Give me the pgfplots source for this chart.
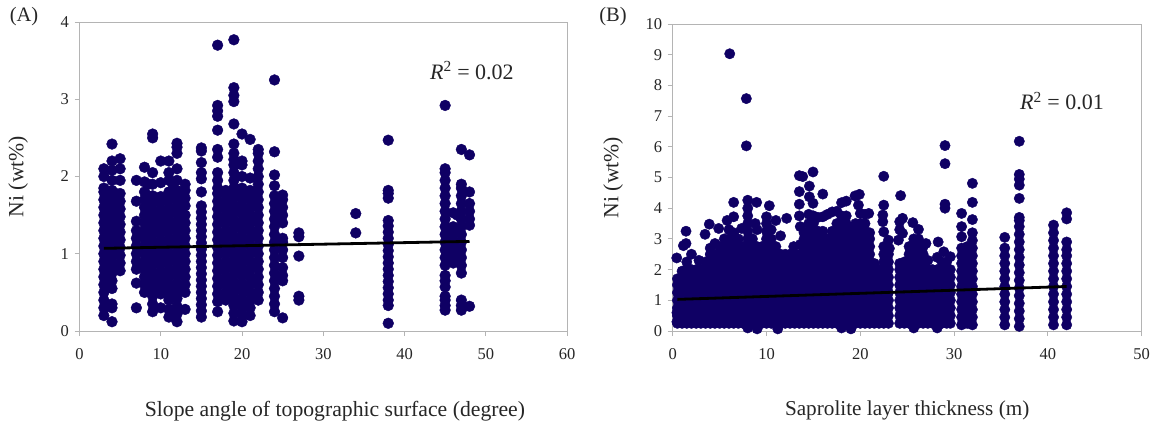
\documentclass[border=0pt]{standalone}
\usepackage{pgfplots}
\pgfplotsset{compat=1.18}
\usepackage{fontspec}
\setmainfont{Liberation Serif}
\definecolor{dot}{HTML}{0F0064}
\definecolor{ax}{HTML}{B4B4B4}
\pgfplotsset{common/.style={scale only axis,axis line style={ax,line width=1pt},tick style={ax,line width=1pt},
 tick align=outside,major tick length=5pt,xtick pos=bottom,ytick pos=left,clip=false,
 /pgf/number format/assume math mode=true,
 tick label style={font=\fontsize{16.5}{19}\selectfont,text=black!85},
 xticklabel style={yshift=-9pt},yticklabel style={xshift=-2pt},
 ymin=0}}
\newcommand{\lab}{\fontsize{21.7}{26}\selectfont}
\begin{document}
\begin{tikzpicture}
\path[use as bounding box] (0,0) rectangle (1156pt,424pt);
\node[font=\fontsize{20.5}{24}\selectfont,text=black!85] at (24pt,407pt) {(A)};
\node[font=\fontsize{20.5}{24}\selectfont,text=black!85] at (613pt,407pt) {(B)};
\begin{axis}[common,at={(79.5pt,93pt)},anchor=south west,width=487.5pt,height=309pt,xmin=0,xmax=60,ymax=4,
 xtick={0,10,20,30,40,50,60},ytick={0,1,2,3,4},
 xlabel={Slope angle of topographic surface (degree)},ylabel={Ni (wt\%)},
 every axis x label/.style={at={(axis description cs:0.524,-0.258)},anchor=center,font=\lab,text=black!85},
 every axis y label/.style={at={(axis description cs:-0.126,0.5)},anchor=center,rotate=90,font=\lab,text=black!85}]
\addplot[only marks,mark=*,mark size=5.4pt,mark options={draw=dot,fill=dot,line width=0.4pt}] coordinates {
(3,0.2)(3,0.3)(3,0.4)(3,0.5)(3,0.6)(3,0.7)(3,0.8)(3,0.9)(3,1)(3,1.1)(3,1.2)(3,1.3)(3,1.4)(3,1.5)(3,1.6)(3,1.7)(3,1.8)(3,1.85)(3,2)(3,2.1)
(3.5,0.6)(3.5,0.8)(3.5,1)(3.5,1.2)(3.5,1.4)(3.5,1.6)(3.5,1.8)
(4,0.12)(4,0.3)(4,0.35)(4,0.55)(4,0.65)(4,0.75)(4,0.85)(4,0.95)(4,1.05)(4,1.15)(4,1.25)(4,1.35)(4,1.45)(4,1.55)(4,1.65)(4,1.75)(4,1.82)(4,1.95)(4,2.08)(4,2.2)(4,2.42)
(4.5,0.85)(4.5,1.05)(4.5,1.25)(4.5,1.45)(4.5,1.65)(4.5,1.78)
(5,0.78)(5,0.88)(5,0.98)(5,1.08)(5,1.18)(5,1.28)(5,1.38)(5,1.48)(5,1.58)(5,1.68)(5,1.78)(5,1.95)(5,2.1)(5,2.23)
(7,0.3)(7,0.62)(7,0.8)(7,0.9)(7,1)(7,1.1)(7,1.2)(7,1.3)(7,1.42)(7,1.68)(7,1.95)
(7.5,0.85)(7.5,1.05)(7.5,1.25)
(8,0.5)(8,0.6)(8,0.7)(8,0.8)(8,0.9)(8,1)(8,1.1)(8,1.2)(8,1.3)(8,1.4)(8,1.5)(8,1.6)(8,1.7)(8,1.8)(8,1.93)(8,2.12)
(8.5,0.55)(8.5,0.75)(8.5,0.95)(8.5,1.15)(8.5,1.35)(8.5,1.55)(8.5,1.75)(8.5,1.9)
(9,0.25)(9,0.35)(9,0.45)(9,0.55)(9,0.65)(9,0.75)(9,0.85)(9,0.95)(9,1.05)(9,1.15)(9,1.25)(9,1.35)(9,1.45)(9,1.55)(9,1.65)(9,1.75)(9,1.9)(9,2.05)(9,2.5)(9,2.55)
(9.5,0.5)(9.5,0.7)(9.5,0.9)(9.5,1.1)(9.5,1.3)(9.5,1.5)(9.5,1.7)
(10,0.3)(10,0.48)(10,0.58)(10,0.68)(10,0.78)(10,0.88)(10,0.98)(10,1.08)(10,1.18)(10,1.28)(10,1.38)(10,1.48)(10,1.58)(10,1.68)(10,1.74)(10,1.92)(10,2.2)
(10.5,0.5)(10.5,0.7)(10.5,0.9)(10.5,1.1)(10.5,1.3)(10.5,1.5)(10.5,1.7)
(11,0.18)(11,0.28)(11,0.4)(11,0.5)(11,0.6)(11,0.7)(11,0.8)(11,0.9)(11,1)(11,1.1)(11,1.2)(11,1.3)(11,1.4)(11,1.5)(11,1.6)(11,1.7)(11,1.8)(11,1.95)(11,2.05)(11,2.2)
(11.5,0.55)(11.5,0.75)(11.5,0.95)(11.5,1.15)(11.5,1.35)(11.5,1.55)(11.5,1.75)(11.5,1.9)
(12,0.12)(12,0.22)(12,0.32)(12,0.42)(12,0.52)(12,0.62)(12,0.72)(12,0.82)(12,0.92)(12,1.02)(12,1.12)(12,1.22)(12,1.32)(12,1.42)(12,1.52)(12,1.62)(12,1.72)(12,1.82)(12,1.95)(12,2.1)(12,2.3)(12,2.38)(12,2.43)
(12.5,0.55)(12.5,0.75)(12.5,0.95)(12.5,1.15)(12.5,1.35)(12.5,1.55)(12.5,1.75)
(13,0.28)(13,0.5)(13,0.6)(13,0.7)(13,0.8)(13,0.9)(13,1)(13,1.1)(13,1.2)(13,1.3)(13,1.4)(13,1.5)(13,1.62)(13,1.72)(13,1.82)(13,1.9)
(15,0.18)(15,0.26)(15,0.34)(15,0.42)(15,0.5)(15,0.58)(15,0.66)(15,0.74)(15,0.82)(15,0.9)(15,0.98)(15,1.06)(15,1.14)(15,1.22)(15,1.3)(15,1.38)(15,1.46)(15,1.54)(15,1.62)(15,1.8)(15,1.97)(15,2.05)(15,2.18)(15,2.33)(15,2.37)
(17,0.25)(17,0.38)(17,0.48)(17,0.58)(17,0.68)(17,0.78)(17,0.88)(17,0.98)(17,1.08)(17,1.18)(17,1.28)(17,1.38)(17,1.48)(17,1.58)(17,1.68)(17,1.78)(17,1.85)(17,1.95)(17,2.05)(17,2.25)(17,2.35)(17,2.6)(17,2.78)(17,2.85)(17,2.92)(17,3.7)
(17.5,0.45)(17.5,0.65)(17.5,0.85)(17.5,1.05)(17.5,1.25)(17.5,1.45)(17.5,1.65)(17.5,1.8)
(18,0.4)(18,0.5)(18,0.6)(18,0.7)(18,0.8)(18,0.9)(18,1)(18,1.1)(18,1.2)(18,1.3)(18,1.4)(18,1.5)(18,1.6)(18,1.7)(18,1.82)
(18.5,0.45)(18.5,0.65)(18.5,0.85)(18.5,1.05)(18.5,1.25)(18.5,1.45)(18.5,1.65)(18.5,1.8)
(19,0.13)(19,0.23)(19,0.33)(19,0.43)(19,0.53)(19,0.63)(19,0.73)(19,0.83)(19,0.93)(19,1.03)(19,1.13)(19,1.23)(19,1.33)(19,1.43)(19,1.53)(19,1.63)(19,1.73)(19,1.85)(19,1.95)(19,2.05)(19,2.15)(19,2.22)(19,2.3)(19,2.42)(19,2.68)(19,2.97)(19,3.05)(19,3.15)(19,3.77)
(19.5,0.35)(19.5,0.55)(19.5,0.75)(19.5,0.95)(19.5,1.15)(19.5,1.35)(19.5,1.55)(19.5,1.75)
(20,0.12)(20,0.22)(20,0.32)(20,0.42)(20,0.52)(20,0.62)(20,0.72)(20,0.82)(20,0.92)(20,1.02)(20,1.12)(20,1.22)(20,1.32)(20,1.42)(20,1.52)(20,1.62)(20,1.72)(20,1.85)(20,2)(20,2.15)(20,2.2)(20,2.55)
(20.5,0.35)(20.5,0.55)(20.5,0.75)(20.5,0.95)(20.5,1.15)(20.5,1.35)(20.5,1.55)(20.5,1.75)
(21,0.2)(21,0.3)(21,0.4)(21,0.5)(21,0.6)(21,0.7)(21,0.8)(21,0.9)(21,1)(21,1.1)(21,1.2)(21,1.3)(21,1.4)(21,1.5)(21,1.6)(21,1.7)(21,1.82)(21,1.98)(21,2.48)
(21.5,0.45)(21.5,0.65)(21.5,0.85)(21.5,1.05)(21.5,1.25)(21.5,1.45)(21.5,1.65)(21.5,1.8)
(22,0.4)(22,0.5)(22,0.6)(22,0.7)(22,0.8)(22,0.9)(22,1)(22,1.1)(22,1.2)(22,1.3)(22,1.4)(22,1.5)(22,1.6)(22,1.7)(22,1.8)(22,1.9)(22,2)(22,2.1)(22,2.2)(22,2.3)(22,2.35)
(24,0.25)(24,0.35)(24,0.45)(24,0.55)(24,0.65)(24,0.75)(24,0.85)(24,0.95)(24,1.05)(24,1.15)(24,1.25)(24,1.35)(24,1.45)(24,1.55)(24,1.65)(24,1.75)(24,1.88)(24,2.02)(24,2.32)(24,3.25)
(25,0.17)(25,0.65)(25,0.72)(25,0.82)(25,0.95)(25,1.05)(25,1.15)(25,1.2)(25,1.4)(25,1.5)(25,1.6)(25,1.7)(25,1.76)
(27,0.4)(27,0.45)(27,0.97)(27,1.22)(27,1.27)
(34,1.27)(34,1.52)
(38,0.1)(38,0.33)(38,0.4)(38,0.48)(38,0.56)(38,0.64)(38,0.72)(38,0.8)(38,0.88)(38,0.96)(38,1.04)(38,1.12)(38,1.2)(38,1.28)(38,1.36)(38,1.43)(38,1.72)(38,1.78)(38,1.82)(38,2.47)
(45,0.27)(45,0.33)(45,0.4)(45,0.45)(45,0.57)(45,0.65)(45,0.72)(45,0.85)(45,0.95)(45,1.05)(45,1.15)(45,1.25)(45,1.35)(45,1.45)(45,1.55)(45,1.65)(45,1.75)(45,1.85)(45,1.95)(45,2.05)(45,2.1)(45,2.92)
(45.5,0.9)(45.5,1.1)(45.5,1.3)
(46,0.88)(46,0.98)(46,1.08)(46,1.18)(46,1.28)(46,1.35)(46,1.53)
(46.5,0.9)(46.5,1.1)(46.5,1.3)(46.5,1.5)
(47,0.27)(47,0.33)(47,0.4)(47,0.75)(47,0.85)(47,0.95)(47,1.05)(47,1.15)(47,1.25)(47,1.35)(47,1.45)(47,1.55)(47,1.65)(47,1.75)(47,1.85)(47,1.9)(47,2.35)
(48,0.32)(48,1.37)(48,1.45)(48,1.55)(48,1.65)(48,1.8)(48,2.28)
};
\node[font=\fontsize{22}{26}\selectfont,text=black!85] at (axis cs:48.3,3.37) {\textit{R}\textsuperscript{2} = 0.02};
\end{axis}
\begin{axis}[scale only axis,hide axis,clip=false,at={(79.5pt,93pt)},anchor=south west,width=487.5pt,height=309pt,xmin=0,xmax=60,ymin=0,ymax=4]
\addplot[black,line width=2.8pt] coordinates {(3,1.07)(48,1.16)};
\end{axis}
\begin{axis}[common,at={(672.7pt,93pt)},anchor=south west,width=469pt,height=307pt,xmin=0,xmax=50,ymax=10,
 xtick={0,10,20,30,40,50},ytick={0,1,2,3,4,5,6,7,8,9,10},
 xlabel={Saprolite layer thickness (m)},ylabel={Ni (wt\%)},
 every axis x label/.style={at={(axis description cs:0.5,-0.26)},anchor=center,font=\fontsize{21.2}{26}\selectfont,text=black!85},
 every axis y label/.style={at={(axis description cs:-0.127,0.5)},anchor=center,rotate=90,font=\lab,text=black!85}]
\addplot[only marks,mark=*,mark size=5.2pt,mark options={draw=dot,fill=dot,line width=0.4pt}] coordinates {
(0.45,0.3)(0.45,0.6)(0.43,2.38)
(0.5,0.25)(0.5,0.5)(0.5,0.75)(0.5,1)(0.5,1.25)(0.5,1.5)(0.5,1.7)
(1,0.25)(1,0.5)(1,0.75)(1,1)(1,1.25)(1,1.5)(1,1.75)(1,1.95)(1.14,2.78)
(1.5,0.25)(1.5,0.5)(1.5,0.75)(1.5,1)(1.5,1.25)(1.5,1.5)(1.5,1.75)(1.5,2)(1.5,2.25)(1.42,2.85)(1.42,3.25)
(2,0.25)(2,0.5)(2,0.75)(2,1)(2,1.25)(2,1.5)(2,1.75)(2,2)(2,2.5)
(2.5,0.25)(2.5,0.5)(2.5,0.75)(2.5,1)(2.5,1.25)(2.5,1.5)(2.5,1.75)(2.5,2)
(3,0.25)(3,0.5)(3,0.75)(3,1)(3,1.25)(3,1.5)(3,1.75)(3,2)(2.8,2.3)
(3.5,0.25)(3.5,0.5)(3.5,0.75)(3.5,1)(3.5,1.25)(3.5,1.5)(3.5,1.75)(3.5,2)(3.5,2.25)(3.45,3.15)
(4,0.25)(4,0.5)(4,0.75)(4,1)(4,1.25)(4,1.5)(4,1.75)(4,2)(4,2.25)(4,2.5)(4,2.7)(3.9,3.48)
(4.5,0.25)(4.5,0.5)(4.5,0.75)(4.5,1)(4.5,1.25)(4.5,1.5)(4.5,1.75)(4.5,2)(4.5,2.25)(4.5,2.5)(4.5,2.85)
(5,0.25)(5,0.5)(5,0.75)(5,1)(5,1.25)(5,1.5)(5,1.75)(5,2)(5,2.25)(5,2.5)(5,2.75)(4.9,3.34)
(5.5,0.25)(5.5,0.5)(5.5,0.75)(5.5,1)(5.5,1.25)(5.5,1.5)(5.5,1.75)(5.5,2)(5.5,2.25)(5.5,2.5)(5.5,2.75)(5.5,3)
(6,0.25)(6,0.5)(6,0.75)(6,1)(6,1.25)(6,1.5)(6,1.75)(6,2)(6,2.25)(6,2.5)(6,2.75)(6,3)(6,3.3)(5.8,3.6)(6.08,9.03)
(6.5,0.25)(6.5,0.5)(6.5,0.75)(6.5,1)(6.5,1.25)(6.5,1.5)(6.5,1.75)(6.5,2)(6.5,2.25)(6.5,2.5)(6.5,2.75)(6.5,3)(6.5,3.2)(6.5,3.72)(6.5,4.19)
(7,0.25)(7,0.5)(7,0.75)(7,1)(7,1.25)(7,1.5)(7,1.75)(7,2)(7,2.25)(7,2.5)(7,2.75)(7,3)
(7.5,0.25)(7.5,0.5)(7.5,0.75)(7.5,1)(7.5,1.25)(7.5,1.5)(7.5,1.75)(7.5,2)(7.5,2.25)(7.5,2.5)(7.5,2.75)(7.35,3.34)
(8,0.1)(8,0.25)(8,0.5)(8,0.75)(8,1)(8,1.25)(8,1.5)(8,1.75)(8,2)(8,2.25)(8,2.5)(8,2.75)(8,3)(8,3.25)(8,3.5)(8,3.75)(8,4)(8,4.26)(7.85,6.03)(7.85,7.57)
(8.5,0.25)(8.5,0.5)(8.5,0.75)(8.5,1)(8.5,1.25)(8.5,1.5)(8.5,1.75)(8.5,2)(8.5,2.25)(8.5,2.5)(8.5,2.75)(8.5,3)(8.8,3.5)
(9,0.07)(9,0.25)(9,0.5)(9,0.75)(9,1)(9,1.25)(9,1.5)(9,1.75)(9,2)(9,2.25)(9,2.5)(9,2.75)(9,3.3)(8.95,4.19)
(9.5,0.25)(9.5,0.5)(9.5,0.75)(9.5,1)(9.5,1.25)(9.5,1.5)(9.5,1.75)(9.5,2)(9.5,2.25)(9.5,2.5)(9.5,2.75)
(10,0.25)(10,0.5)(10,0.75)(10,1)(10,1.25)(10,1.5)(10,1.75)(10,2)(10,2.25)(10,2.5)(10,2.75)(10,3)(10,3.25)(10,3.5)(10,3.72)
(10.5,0.25)(10.5,0.5)(10.5,0.75)(10.5,1)(10.5,1.25)(10.5,1.5)(10.5,1.75)(10.5,2)(10.5,2.25)(10.5,2.5)(10.5,2.75)(10.5,3)(10.5,3.3)(10.3,4.08)
(11,0.25)(11,0.5)(11,0.75)(11,1)(11,1.25)(11,1.5)(11,1.75)(11,2)(11,2.25)(11,2.5)(11,2.75)(11,3.6)(11.2,0.07)
(11.5,0.25)(11.5,0.5)(11.5,0.75)(11.5,1)(11.5,1.25)(11.5,1.5)(11.5,1.75)(11.5,2)(11.5,2.25)(11.5,2.5)(11.5,3.1)
(12,0.25)(12,0.5)(12,0.75)(12,1)(12,1.25)(12,1.5)(12,1.75)(12,2)(12,2.25)(12,2.5)(12.15,3.67)
(12.5,0.25)(12.5,0.5)(12.5,0.75)(12.5,1)(12.5,1.25)(12.5,1.5)(12.5,1.75)(12.5,2)(12.5,2.25)(12.5,2.5)
(13,0.25)(13,0.5)(13,0.75)(13,1)(13,1.25)(13,1.5)(13,1.75)(13,2)(13,2.25)(13,2.5)(12.9,2.75)
(13.5,0.25)(13.5,0.5)(13.5,0.75)(13.5,1)(13.5,1.25)(13.5,1.5)(13.5,1.75)(13.5,2)(13.5,2.25)(13.5,2.5)(13.6,2.82)(13.6,3.4)(13.5,3.75)(13.5,4.13)(13.5,4.54)(13.5,5.06)
(14,0.25)(14,0.5)(14,0.75)(14,1)(14,1.25)(14,1.5)(14,1.75)(14,2)(14,2.25)(14,2.5)(14,2.75)(14,3)(14,3.2)(13.86,5.03)
(14.5,0.25)(14.5,0.5)(14.5,0.75)(14.5,1)(14.5,1.25)(14.5,1.5)(14.5,1.75)(14.5,2)(14.5,2.25)(14.5,2.5)(14.5,2.75)(14.5,3)(14.5,3.25)(14.5,3.5)(14.5,3.8)(14.57,4.37)(14.57,4.72)
(15,0.25)(15,0.5)(15,0.75)(15,1)(15,1.25)(15,1.5)(15,1.75)(15,2)(15,2.25)(15,2.5)(15,2.75)(15,3)(15,3.25)(15,3.5)(15,3.75)(14.96,4.16)(14.96,5.18)
(15.5,0.25)(15.5,0.5)(15.5,0.75)(15.5,1)(15.5,1.25)(15.5,1.5)(15.5,1.75)(15.5,2)(15.5,2.25)(15.5,2.5)(15.5,2.75)(15.5,3)(15.5,3.25)(15.5,3.7)
(16,0.25)(16,0.5)(16,0.75)(16,1)(16,1.25)(16,1.5)(16,1.75)(16,2)(16,2.25)(16,2.5)(16,2.75)(16,3)(16,3.25)(16,3.72)(16,4.46)
(16.5,0.25)(16.5,0.5)(16.5,0.75)(16.5,1)(16.5,1.25)(16.5,1.5)(16.5,1.75)(16.5,2)(16.5,2.25)(16.5,2.5)(16.5,2.75)(16.5,3)(16.5,3.8)
(17,0.25)(17,0.5)(17,0.75)(17,1)(17,1.25)(17,1.5)(17,1.75)(17,2)(17,2.25)(17,2.5)(17,2.75)(17,3)(17,3.25)(17,3.88)
(17.5,0.25)(17.5,0.5)(17.5,0.75)(17.5,1)(17.5,1.25)(17.5,1.5)(17.5,1.75)(17.5,2)(17.5,2.25)(17.5,2.5)(17.5,2.75)(17.5,3)(17.5,3.25)(17.5,3.5)(17.5,3.9)
(18,0.1)(18,0.25)(18,0.5)(18,0.75)(18,1)(18,1.25)(18,1.5)(18,1.75)(18,2)(18,2.25)(18,2.5)(18,2.75)(18,3)(18,3.25)(18,3.5)(18,3.75)(18,4.18)
(18.5,0.25)(18.5,0.5)(18.5,0.75)(18.5,1)(18.5,1.25)(18.5,1.5)(18.5,1.75)(18.5,2)(18.5,2.25)(18.5,2.5)(18.5,2.75)(18.5,3)(18.5,3.25)(18.5,3.5)(18.5,3.75)(18.5,4.23)
(19,0.07)(19,0.25)(19,0.5)(19,0.75)(19,1)(19,1.25)(19,1.5)(19,1.75)(19,2)(19,2.25)(19,2.5)(19,2.75)(19,3)(19,3.3)
(19.5,0.25)(19.5,0.5)(19.5,0.75)(19.5,1)(19.5,1.25)(19.5,1.5)(19.5,1.75)(19.5,2)(19.5,2.25)(19.5,2.5)(19.5,2.75)(19.5,3)(19.5,3.25)(19.5,3.5)(19.44,4.4)
(20,0.25)(20,0.5)(20,0.75)(20,1)(20,1.25)(20,1.5)(20,1.75)(20,2)(20,2.25)(20,2.5)(20,2.75)(20,3)(20,3.25)(20,3.5)(20,3.83)(19.8,4.1)(19.9,4.45)
(20.5,0.25)(20.5,0.5)(20.5,0.75)(20.5,1)(20.5,1.25)(20.5,1.5)(20.5,1.75)(20.5,2)(20.5,2.25)(20.5,2.5)(20.5,2.75)(20.5,3)(20.5,3.25)(20.5,3.5)(20.5,3.8)
(21,0.25)(21,0.5)(21,0.75)(21,1)(21,1.25)(21,1.5)(21,1.75)(21,2)(21,2.25)(21,2.5)(21,2.75)(21,3)(21,3.2)(20.9,3.83)
(21.5,0.25)(21.5,0.5)(21.5,0.75)(21.5,1)(21.5,1.25)(21.5,1.5)(21.5,1.75)(21.5,2)(21.5,2.2)
(22,0.25)(22,0.5)(22,0.75)(22,1)(22,1.25)(22,1.5)(22,1.75)(22,2)
(22.5,0.25)(22.5,0.5)(22.5,0.75)(22.5,1)(22.5,1.25)(22.5,1.5)(22.5,1.75)(22.5,2)(22.5,2.25)(22.5,2.5)(22.5,2.75)(22.5,3.23)(22.4,3.56)(22.4,3.78)(22.5,4.1)(22.5,5.04)
(23,0.25)(23,0.5)(23,0.75)(23,1)(23,1.25)(23,1.5)(23,1.75)(23,2)(23,2.25)(23,2.5)(23.1,2.69)(23,2.96)
(24.2,0.25)(24.2,0.5)(24.2,0.75)(24.2,1)(24.2,1.25)(24.2,1.5)(24.2,1.75)(24.2,2)(24.2,2.2)(24.06,2.96)(24.2,3.3)(24.2,3.56)(24.3,4.41)
(24.7,0.25)(24.7,0.5)(24.7,0.75)(24.7,1)(24.7,1.25)(24.7,1.5)(24.7,1.75)(24.7,2)(24.7,2.25)(24.5,3.18)(24.5,3.67)
(25.2,0.25)(25.2,0.5)(25.2,0.75)(25.2,1)(25.2,1.25)(25.2,1.5)(25.2,1.75)(25.2,2)(25.2,2.25)(25.2,2.5)(25.2,2.75)
(25.7,0.1)(25.7,0.25)(25.7,0.5)(25.7,0.75)(25.7,1)(25.7,1.25)(25.7,1.5)(25.7,1.75)(25.7,2)(25.7,2.25)(25.7,2.5)(25.7,2.75)(25.7,3)(25.6,3.53)
(26.2,0.25)(26.2,0.5)(26.2,0.75)(26.2,1)(26.2,1.25)(26.2,1.5)(26.2,1.75)(26.2,2)(26.2,2.25)(26.2,2.5)(26.2,2.75)(26.2,3)(26.2,3.31)
(26.7,0.25)(26.7,0.5)(26.7,0.75)(26.7,1)(26.7,1.25)(26.7,1.5)(26.7,1.75)(26.7,2)(26.7,2.25)(26.7,2.5)(26.7,2.75)
(27.2,0.25)(27.2,0.5)(27.2,0.75)(27.2,1)(27.2,1.25)(27.2,1.5)(27.2,1.75)(27.2,2)(27.2,2.3)(27,2.85)
(27.7,0.25)(27.7,0.5)(27.7,0.75)(27.7,1)(27.7,1.25)(27.7,1.5)(27.7,1.75)(27.7,2)
(28.2,0.1)(28.2,0.25)(28.2,0.5)(28.2,0.75)(28.2,1)(28.2,1.25)(28.2,1.5)(28.2,1.75)(28.2,2)(28.2,2.4)(28.3,2.9)
(28.7,0.25)(28.7,0.5)(28.7,0.75)(28.7,1)(28.7,1.25)(28.7,1.5)(28.7,1.75)(28.7,2)(28.7,2.25)(28.9,2.58)
(29.2,0.25)(29.2,0.5)(29.2,0.75)(29.2,1)(29.2,1.25)(29.2,1.5)(29.2,1.75)(29.2,2)(29.2,2.25)(29.03,4)(29.03,4.13)(29.03,5.45)(29.03,6.04)
(29.6,0.25)(29.6,0.5)(29.6,0.75)(29.6,1)(29.6,1.25)(29.6,1.5)(29.6,1.75)(29.6,2)(29.6,2.42)
(30.8,0.2)(30.8,0.45)(30.8,0.7)(30.8,0.95)(30.8,1.2)(30.8,1.45)(30.8,1.7)(30.8,1.95)(30.8,2.2)(30.8,2.45)(30.8,2.7)(30.8,3.07)(30.8,3.4)(30.8,3.83)
(31.4,0.25)(31.4,0.5)(31.4,0.75)(31.4,1)(31.4,1.25)(31.4,1.5)(31.4,1.75)(31.4,2)(31.4,2.25)(31.4,2.5)(31.4,2.75)
(31.95,0.2)(31.95,0.45)(31.95,0.7)(31.95,0.95)(31.95,1.2)(31.95,1.45)(31.95,1.7)(31.95,1.95)(31.95,2.2)(31.95,2.45)(31.95,2.7)(31.95,2.95)(31.95,3.2)(31.95,3.63)(31.95,4.19)(31.95,4.81)
(35.4,0.2)(35.4,0.45)(35.4,0.7)(35.4,0.95)(35.4,1.2)(35.4,1.45)(35.4,1.7)(35.4,1.95)(35.4,2.2)(35.4,2.45)(35.4,2.7)(35.4,3.05)
(36.95,0.15)(36.95,0.4)(36.95,0.65)(36.95,0.9)(36.95,1.15)(36.95,1.4)(36.95,1.65)(36.95,1.9)(36.95,2.15)(36.95,2.4)(36.95,2.65)(36.95,2.9)(36.95,3.15)(36.95,3.4)(36.95,3.6)(36.95,3.7)(36.95,4.32)(36.95,4.75)(36.95,4.95)(36.95,5.1)(36.95,6.18)
(40.6,0.2)(40.6,0.45)(40.6,0.7)(40.6,0.95)(40.6,1.2)(40.6,1.45)(40.6,1.7)(40.6,1.95)(40.6,2.2)(40.6,2.45)(40.6,2.7)(40.6,2.95)(40.6,3.2)(40.6,3.45)
(42,0.2)(42,0.45)(42,0.7)(42,0.95)(42,1.2)(42,1.45)(42,1.7)(42,1.95)(42,2.2)(42,2.45)(42,2.65)(42,2.9)(42,3.65)(42,3.85)
};
\node[font=\fontsize{22}{26}\selectfont,text=black!85] at (axis cs:41.5,7.49) {\textit{R}\textsuperscript{2} = 0.01};
\end{axis}
\begin{axis}[scale only axis,hide axis,clip=false,at={(672.7pt,93pt)},anchor=south west,width=469pt,height=307pt,xmin=0,xmax=50,ymin=0,ymax=10]
\addplot[black,line width=2.8pt] coordinates {(0.5,1.03)(42,1.45)};
\end{axis}
\end{tikzpicture}
\end{document}
